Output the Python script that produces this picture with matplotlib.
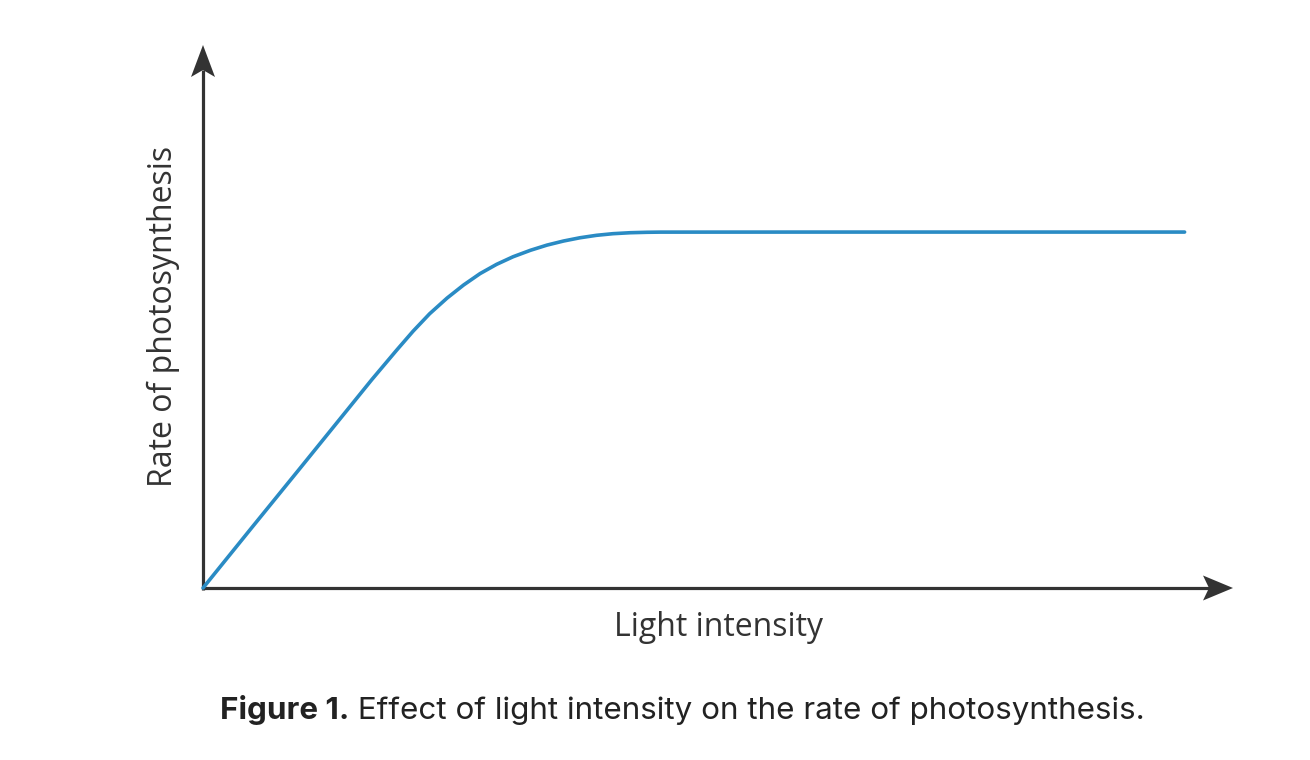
import numpy as np
import matplotlib
matplotlib.use("Agg")
import matplotlib.pyplot as plt
from matplotlib.patches import Polygon

# values (arbitrary units, axes run 0..100)
light = [0, 4.6, 9.4, 16.4, 17.2, 18.8, 20.4, 22.0, 23.7, 25.3, 26.9, 28.5,
         30.1, 31.8, 33.4, 35.0, 36.6, 38.2, 39.8, 41.5, 43.1, 44.4, 60.0,
         80.0, 95.3]
rate = [0, 10.8, 22.0, 38.4, 40.2, 43.8, 47.3, 50.5, 53.4, 55.8, 57.9, 59.6,
        61.0, 62.2, 63.15, 63.9, 64.5, 64.95, 65.25, 65.43, 65.51, 65.54, 65.55,
        65.55, 65.55]

x_label = "Light intensity"
y_label = "Rate of photosynthesis"
caption_bold = "Figure 1."
caption_rest = " Effect of light intensity on the rate of photosynthesis."

W, H = 1310, 760
axis_col = "#333333"
line_col = "#2a8bc4"

fig = plt.figure(figsize=(W / 100, H / 100), dpi=100)

# decoration layer in pixel coordinates (axis lines and arrow heads)
deco = fig.add_axes([0, 0, 1, 1], zorder=0)
deco.set_xlim(0, W)
deco.set_ylim(H, 0)
deco.axis("off")

ox, oy = 203, 588
deco.plot([ox, ox], [oy + 1.5, 70], color=axis_col, lw=2.3, solid_capstyle="butt")
deco.plot([ox - 1.5, 1210], [oy, oy], color=axis_col, lw=2.3, solid_capstyle="butt")
deco.add_patch(Polygon([(ox, 45), (ox - 12, 77), (ox, 70), (ox + 12, 77)],
                       closed=True, color=axis_col, lw=0))
deco.add_patch(Polygon([(1233, oy), (1203, oy - 12.5), (1209, oy), (1203, oy + 12.5)],
                       closed=True, color=axis_col, lw=0))

# main axes, origin at the corner of the arrows
ax = fig.add_axes([ox / W, (H - oy) / H, 1030 / W, 543 / H], zorder=1)
ax.patch.set_alpha(0)
ax.set_xlim(0, 100)
ax.set_ylim(0, 100)
ax.plot(light, rate, color=line_col, lw=2.6, solid_capstyle="round",
        solid_joinstyle="round", clip_on=False)
for s in ax.spines.values():
    s.set_visible(False)
ax.set_xticks([])
ax.set_yticks([])

fig.text(718 / W, 1 - 628 / H, x_label, ha="center", va="center",
         fontsize=23, family="Open Sans", color="#333333")
fig.text(163 / W, 1 - 316 / H, y_label, ha="center", va="center", rotation=90,
         fontsize=23, family="Open Sans", color="#333333")

t1 = fig.text(220 / W, 1 - 719 / H, caption_bold, ha="left", va="baseline",
              fontsize=22.6, family="Inter", weight="bold", color="#222222")
ax.annotate(caption_rest, xy=(1, 0), xycoords=t1, ha="left", va="bottom",
            fontsize=22.6, family="Inter", color="#222222", annotation_clip=False)

fig.savefig("out.png", dpi=100, facecolor="white")
